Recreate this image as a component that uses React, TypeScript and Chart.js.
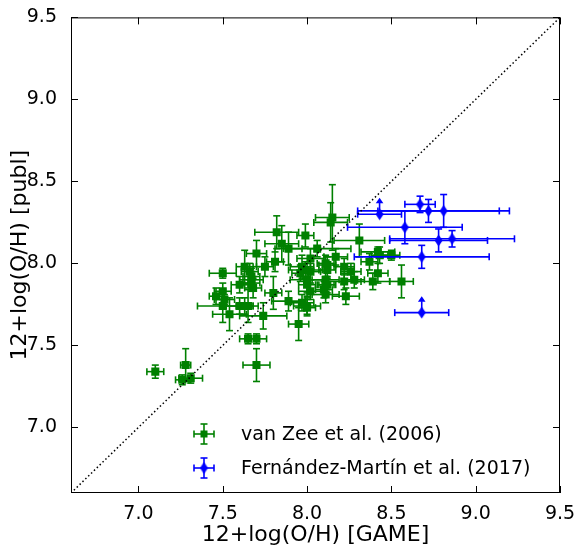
import { useEffect, useRef } from 'react';
import { Chart, registerables } from 'chart.js';

Chart.register(...registerables);

// ---- axes ----
const axisMin = 6.6;
const axisMax = 9.5;
const xTicks = [7.0, 7.5, 8.0, 8.5, 9.0, 9.5];
const yTicks = [7.0, 7.5, 8.0, 8.5, 9.0, 9.5];
const xTitle = '12+log(O/H) [GAME]';
const yTitle = '12+log(O/H) [publ]';
const seriesLabels = ['van Zee et al. (2006)', 'Fernández-Martín et al. (2017)'];

// ---- van Zee et al. (2006) ----
const vzX = [7.10, 7.28, 7.26, 7.31, 7.50, 7.63, 7.70, 7.46, 7.50, 7.51, 7.50, 7.54, 7.60, 7.65, 7.74, 7.65, 7.70, 7.70, 7.80, 7.89,
  7.95, 7.67, 7.68, 7.82, 7.85, 7.89, 7.81, 7.75, 7.66, 7.67, 8.15, 8.14, 7.99, 8.31, 8.06, 8.42, 8.50, 8.17, 8.37, 8.43,
  8.22, 8.11, 8.26, 8.42, 8.28, 8.11, 7.99, 8.02, 7.97, 8.56, 8.39, 8.23, 8.11, 8.00, 8.22, 8.11, 7.97, 8.02, 8.00, 8.12,
  8.12, 7.67, 7.63, 7.60, 8.00, 8.00, 8.12, 8.10, 7.96, 8.02];
const vzY = [7.34, 7.38, 7.29, 7.30, 7.94, 7.98, 8.06, 7.80, 7.83, 7.78, 7.74, 7.69, 7.74, 7.74, 7.68, 7.54, 7.54, 7.38, 7.82, 7.77,
  7.63, 7.90, 7.85, 8.19, 8.12, 8.09, 8.01, 7.98, 7.95, 7.92, 8.28, 8.25, 8.17, 8.14, 8.09, 8.07, 8.05, 8.04, 8.01, 8.05,
  7.98, 8.00, 7.95, 7.94, 7.90, 7.90, 7.96, 7.95, 7.98, 7.89, 7.89, 7.80, 7.81, 7.74, 7.89, 7.87, 7.76, 7.83, 7.90, 7.99,
  7.96, 7.88, 7.74, 7.87, 7.73, 7.87, 7.87, 7.84, 7.94, 8.03];
const vzXErr = [0.05, 0.03, 0.04, 0.07, 0.08, 0.05, 0.06, 0.04, 0.05, 0.06, 0.15, 0.10, 0.08, 0.06, 0.14, 0.05, 0.06, 0.08, 0.05, 0.10,
  0.06, 0.07, 0.05, 0.13, 0.10, 0.08, 0.05, 0.05, 0.05, 0.05, 0.10, 0.10, 0.05, 0.15, 0.20, 0.10, 0.05, 0.07, 0.05, 0.05,
  0.06, 0.05, 0.06, 0.06, 0.06, 0.08, 0.10, 0.06, 0.07, 0.07, 0.10, 0.08, 0.08, 0.08, 0.10, 0.05, 0.07, 0.07, 0.10, 0.05,
  0.05, 0.05, 0.05, 0.05, 0.05, 0.05, 0.05, 0.05, 0.05, 0.08];
const vzYErr = [0.04, 0.10, 0.03, 0.03, 0.03, 0.10, 0.08, 0.05, 0.05, 0.03, 0.10, 0.10, 0.05, 0.10, 0.08, 0.03, 0.03, 0.10, 0.10, 0.06,
  0.10, 0.05, 0.06, 0.10, 0.11, 0.10, 0.06, 0.06, 0.05, 0.05, 0.20, 0.12, 0.07, 0.10, 0.05, 0.03, 0.03, 0.05, 0.05, 0.05,
  0.05, 0.05, 0.05, 0.06, 0.05, 0.05, 0.05, 0.05, 0.07, 0.10, 0.05, 0.05, 0.05, 0.05, 0.05, 0.05, 0.05, 0.05, 0.10, 0.05,
  0.05, 0.05, 0.05, 0.05, 0.05, 0.05, 0.05, 0.05, 0.05, 0.06];

// ---- Fernández-Martín et al. (2017) ----
const fmX = [8.43, 8.67, 8.72, 8.81, 8.58, 8.78, 8.86, 8.68, 8.68];
const fmY = [8.30, 8.36, 8.32, 8.32, 8.22, 8.14, 8.15, 8.04, 7.70];
const fmXErr = [0.13, 0.09, 0.42, 0.39, 0.34, 0.29, 0.37, 0.40, 0.16];
const fmYErr = [0.10, 0.05, 0.07, 0.10, 0.10, 0.07, 0.05, 0.07, 0.10];
const fmLowerLimit = [true, false, false, false, false, false, false, false, true];

const GREEN = '#008000';
const BLUE = '#0000ff';
const FONT = '"DejaVu Sans", "Liberation Sans", sans-serif';

function makeDiamond(color: string) {
  const c = document.createElement('canvas');
  c.width = 9;
  c.height = 13;
  const g = c.getContext('2d')!;
  g.fillStyle = color;
  g.beginPath();
  g.moveTo(4.5, 0.5);
  g.lineTo(8.5, 6.5);
  g.lineTo(4.5, 12.5);
  g.lineTo(0.5, 6.5);
  g.closePath();
  g.fill();
  return c;
}

function seg(ctx: CanvasRenderingContext2D, x1: number, y1: number, x2: number, y2: number) {
  ctx.beginPath();
  ctx.moveTo(x1, y1);
  ctx.lineTo(x2, y2);
  ctx.stroke();
}

function drawErrorBar(ctx: CanvasRenderingContext2D, px: number, py: number, xl: number, xr: number,
  yt: number, yb: number, lim: boolean, color: string) {
  const cap = 3.5;
  ctx.save();
  ctx.strokeStyle = color;
  ctx.fillStyle = color;
  ctx.lineWidth = 1.6;
  seg(ctx, xl, py, xr, py);
  seg(ctx, xl, py - cap, xl, py + cap);
  seg(ctx, xr, py - cap, xr, py + cap);
  if (lim) {
    seg(ctx, px, py, px, yt + 5);
    ctx.beginPath();
    ctx.moveTo(px - 3.8, yt + 5.5);
    ctx.lineTo(px + 3.8, yt + 5.5);
    ctx.lineTo(px, yt);
    ctx.closePath();
    ctx.fill();
  } else {
    seg(ctx, px, yt, px, yb);
    seg(ctx, px - cap, yt, px + cap, yt);
    seg(ctx, px - cap, yb, px + cap, yb);
  }
  ctx.restore();
}

export default function App() {
  const ref = useRef<HTMLCanvasElement>(null);

  useEffect(() => {
    const canvas = ref.current;
    if (!canvas) return;
    const diamond = makeDiamond(BLUE);

    const errInfo: Record<number, any> = {
      0: { xs: vzX, ys: vzY, xe: vzXErr, ye: vzYErr, lim: null, color: GREEN },
      1: { xs: fmX, ys: fmY, xe: fmXErr, ye: fmYErr, lim: fmLowerLimit, color: BLUE },
    };

    const plugin = {
      id: 'errbars',
      beforeDatasetDraw(chart: any, args: any) {
        const info = errInfo[args.index];
        if (!info) return;
        const { ctx } = chart;
        const sx = chart.scales.x;
        const sy = chart.scales.y;
        for (let i = 0; i < info.xs.length; i++) {
          const x = info.xs[i];
          const y = info.ys[i];
          const px = sx.getPixelForValue(x);
          const py = sy.getPixelForValue(y);
          drawErrorBar(ctx, px, py,
            sx.getPixelForValue(x - info.xe[i]), sx.getPixelForValue(x + info.xe[i]),
            sy.getPixelForValue(y + info.ye[i]), sy.getPixelForValue(y - info.ye[i]),
            info.lim ? info.lim[i] : false, info.color);
        }
      },
      afterDraw(chart: any) {
        const { ctx, chartArea: a } = chart;
        const sx = chart.scales.x;
        const sy = chart.scales.y;
        ctx.save();
        ctx.strokeStyle = '#000';
        ctx.lineWidth = 1;
        ctx.strokeRect(a.left + 0.5, a.top + 0.5, a.right - a.left - 1, a.bottom - a.top - 1);
        const tl = 7;
        xTicks.forEach((v) => {
          const p = Math.round(sx.getPixelForValue(v)) + 0.5;
          seg(ctx, p, a.bottom, p, a.bottom - tl);
          seg(ctx, p, a.top, p, a.top + tl);
        });
        yTicks.forEach((v) => {
          const p = Math.round(sy.getPixelForValue(v)) + 0.5;
          seg(ctx, a.left, p, a.left + tl, p);
          seg(ctx, a.right, p, a.right - tl, p);
        });
        // legend
        const rows = [
          { y: 434, color: GREEN, text: seriesLabels[0], marker: 'square' },
          { y: 468, color: BLUE, text: seriesLabels[1], marker: 'diamond' },
        ];
        const mx = 204;
        rows.forEach((r) => {
          drawErrorBar(ctx, mx, r.y, mx - 10, mx + 10, r.y - 10, r.y + 10, false, r.color);
          if (r.marker === 'square') {
            ctx.fillStyle = r.color;
            ctx.fillRect(mx - 3.5, r.y - 3.5, 7, 7);
          } else {
            ctx.drawImage(diamond, mx - diamond.width / 2, r.y - diamond.height / 2);
          }
          ctx.fillStyle = '#000';
          ctx.font = `19px ${FONT}`;
          ctx.textAlign = 'left';
          ctx.textBaseline = 'middle';
          ctx.fillText(r.text, 241, r.y + 1);
        });
        ctx.restore();
      },
    };

    const chart = new Chart(canvas, {
      type: 'scatter',
      data: {
        datasets: [
          {
            label: seriesLabels[0],
            data: vzX.map((x, i) => ({ x, y: vzY[i] })),
            pointStyle: 'rect',
            pointRadius: 5.7,
            backgroundColor: GREEN,
            borderWidth: 0,
            order: 3,
          },
          {
            label: seriesLabels[1],
            data: fmX.map((x, i) => ({ x, y: fmY[i] })),
            pointStyle: diamond as any,
            pointRadius: 5,
            backgroundColor: BLUE,
            borderWidth: 0,
            order: 2,
          },
          {
            type: 'line' as const,
            label: 'one-to-one',
            data: [{ x: axisMin, y: axisMin }, { x: axisMax, y: axisMax }],
            borderColor: '#000',
            borderWidth: 1.5,
            borderDash: [1.5, 2.5],
            pointRadius: 0,
            fill: false,
            order: 1,
          } as any,
        ],
      },
      options: {
        responsive: false,
        animation: false,
        events: [],
        layout: { padding: { top: 15, right: 20, left: 0, bottom: 0 } },
        plugins: { legend: { display: false }, tooltip: { enabled: false } },
        scales: {
          x: {
            type: 'linear',
            min: axisMin,
            max: axisMax,
            grid: { display: false },
            border: { display: false },
            ticks: {
              color: '#000',
              font: { family: FONT, size: 19 },
              padding: 2,
              autoSkip: false,
              maxRotation: 0,
              callback: (v: any) => Number(v).toFixed(1),
            },
            afterBuildTicks: (s: any) => { s.ticks = xTicks.map((v) => ({ value: v })); },
            afterFit: (s: any) => { s.height = 56; },
            title: {
              display: true,
              text: xTitle,
              color: '#000',
              font: { family: FONT, size: 22 },
              padding: { top: 0, bottom: 1 },
            },
          },
          y: {
            type: 'linear',
            min: axisMin,
            max: axisMax,
            grid: { display: false },
            border: { display: false },
            ticks: {
              color: '#000',
              font: { family: FONT, size: 19 },
              padding: 6,
              autoSkip: false,
              callback: (v: any) => Number(v).toFixed(1),
            },
            afterBuildTicks: (s: any) => { s.ticks = yTicks.map((v) => ({ value: v })); },
            afterFit: (s: any) => { s.width = 71; },
            title: {
              display: true,
              text: yTitle,
              color: '#000',
              font: { family: FONT, size: 22 },
              padding: { top: 7, bottom: 0 },
            },
          },
        },
      },
      plugins: [plugin],
    });

    return () => chart.destroy();
  }, []);

  return (
    <div style={{ position: 'fixed', left: 0, top: 0, width: 580, height: 549, background: '#fff' }}>
      <canvas ref={ref} width={580} height={549} style={{ display: 'block' }} />
    </div>
  );
}
